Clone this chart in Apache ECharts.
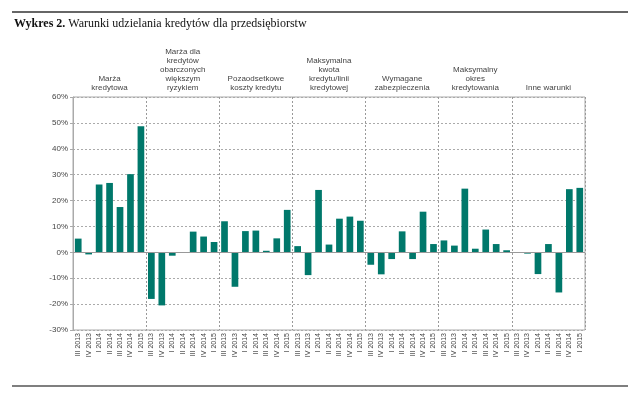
<!DOCTYPE html>
<html>
<head>
<meta charset="utf-8">
<script src="https://cdn.jsdelivr.net/npm/echarts@6/dist/echarts.min.js"></script>
<style>html,body{margin:0;padding:0;background:#fff}#c{width:640px;height:405px}</style>
</head>
<body>
<div id="c"></div>
<script>
const quarters = ["III 2013","IV 2013","I 2014","II 2014","III 2014","IV 2014","I 2015"];
const groups = ["Marża\nkredytowa","Marża dla\nkredytów\nobarczonych\nwiększym\nryzykiem","Pozaodsetkowe\nkoszty kredytu","Maksymalna\nkwota\nkredytu/linii\nkredytowej","Wymagane\nzabezpieczenia","Maksymalny\nokres\nkredytowania","Inne warunki"];
const marzaKredytowa = [5.3, -0.8, 26.2, 26.8, 17.5, 30.2, 48.7];
const marzaRyzyko = [-18.0, -20.5, -1.3, 0, 8.0, 6.1, 4.0];
const kosztyPozaodsetkowe = [12.0, -13.3, 8.2, 8.4, 0.6, 5.4, 16.4];
const maksKwota = [2.4, -8.8, 24.1, 3.0, 13.0, 13.8, 12.2];
const zabezpieczenia = [-4.8, -8.5, -2.6, 8.1, -2.6, 15.7, 3.2];
const maksOkres = [4.6, 2.6, 24.6, 1.4, 8.8, 3.2, 0.8];
const inneWarunki = [0, -0.5, -8.4, 3.2, -15.5, 24.4, 24.9];
const yTicks = {min: -30, max: 60, interval: 10};

const groupValues = [marzaKredytowa, marzaRyzyko, kosztyPozaodsetkowe, maksKwota, zabezpieczenia, maksOkres, inneWarunki];
const cats = [];
const vals = [];
groupValues.forEach((g, gi) => {
  g.forEach((v, qi) => { cats.push(quarters[qi] + "#" + gi); vals.push(v); });
});

const chart = echarts.init(document.getElementById('c'));
chart.setOption({
  animation: false,
  title: {
    text: '{b|Wykres 2.} Warunki udzielania kredytów dla przedsiębiorstw',
    left: 9, top: 13,
    textStyle: {
      fontFamily: 'Liberation Serif', fontSize: 12, fontWeight: 'normal', color: '#111',
      rich: { b: { fontFamily: 'Liberation Serif', fontSize: 12, fontWeight: 'bold', color: '#111' } }
    }
  },
  graphic: [
    {type: 'line', shape: {x1: 12, y1: 12, x2: 628, y2: 12}, style: {stroke: '#333', lineWidth: 1.5}},
    {type: 'line', shape: {x1: 12, y1: 386, x2: 628, y2: 386}, style: {stroke: '#555', lineWidth: 1.5}}
  ],
  grid: {left: 73, right: 55, top: 97, bottom: 75, show: true, borderColor: '#aaa', borderWidth: 1},
  xAxis: [
    {
      type: 'category', data: cats, position: 'bottom',
      axisLine: {show: false, onZero: false},
      axisTick: {show: false},
      axisLabel: {
        interval: 0, rotate: 90, fontSize: 7, color: '#444', fontFamily: 'Liberation Sans', margin: 3,
        formatter: v => v.split('#')[0]
      },
      splitLine: {show: false}
    },
    {
      type: 'category', data: groups, position: 'top',
      axisLine: {show: false}, axisTick: {show: false},
      axisLabel: {interval: 0, fontSize: 8, lineHeight: 9, color: '#444', fontFamily: 'Liberation Sans', margin: 5},
      splitLine: {show: true, interval: 0, lineStyle: {type: [2, 2], color: '#999', width: 1}}
    }
  ],
  yAxis: {
    type: 'value', min: yTicks.min, max: yTicks.max, interval: yTicks.interval,
    axisLine: {show: true, lineStyle: {color: '#aaa'}},
    axisTick: {show: true, length: 3, lineStyle: {color: '#aaa'}},
    axisLabel: {formatter: '{value}%', fontSize: 8, color: '#444', fontFamily: 'Liberation Sans', margin: 5},
    splitLine: {show: true, lineStyle: {type: [2, 2], color: '#aaa', width: 1}}
  },
  series: [{
    type: 'bar', xAxisIndex: 0, data: vals, barCategoryGap: '36%',
    itemStyle: {color: '#00786B'},
    markLine: {
      silent: true, symbol: 'none', label: {show: false},
      lineStyle: {type: 'solid', color: '#999', width: 1},
      data: [{yAxis: 0}]
    }
  }]
});
</script>
</body>
</html>
